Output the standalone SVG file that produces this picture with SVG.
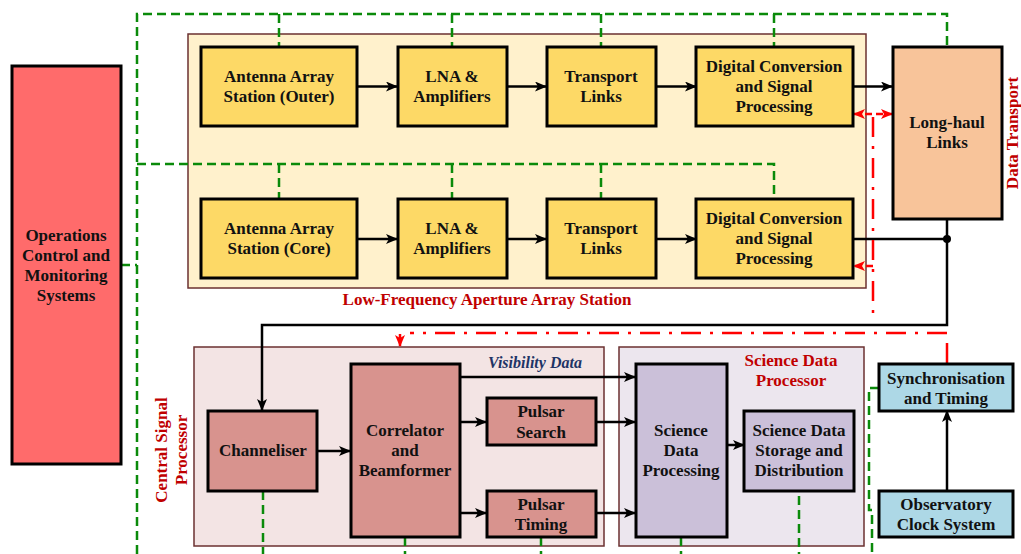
<svg xmlns="http://www.w3.org/2000/svg" width="1021" height="554" viewBox="0 0 1021 554">
<style>
.t{font-family:"Liberation Serif","Times New Roman",serif;font-weight:bold;font-size:17px;text-anchor:middle;fill:#111}
.red{fill:#c00000}
.blue{fill:#1f3466;font-style:italic;font-size:16px}
.box{stroke:#000;stroke-width:3}
.y{fill:#fdd966}
.pk{fill:#d8938e}
.pu{fill:#cbc0d9}
.lb{fill:#add8e6}
.or{fill:#f8c49a}
.op{fill:#ff6b6b}
.grp{stroke:#6b3030;stroke-width:1.5}
.g{fill:none;stroke:#0a8a0a;stroke-width:2.5;stroke-dasharray:9 5}
.k{fill:none;stroke:#000;stroke-width:2.5}
.rd{fill:none;stroke:#ff0000;stroke-width:2.5;stroke-dasharray:20 9 3 9}
.rs{fill:none;stroke:#ff0000;stroke-width:2.5}
.rdd{fill:none;stroke:#ff0000;stroke-width:2.5;stroke-dasharray:7 4}
</style>
<defs>
<marker id="ak" markerUnits="userSpaceOnUse" markerWidth="12" markerHeight="10" refX="11" refY="5" orient="auto"><path d="M0,0 L12,5 L0,10 L3,5 Z" fill="#000"/></marker>
<marker id="ar" markerUnits="userSpaceOnUse" markerWidth="12" markerHeight="10" refX="11" refY="5" orient="auto"><path d="M0,0 L12,5 L0,10 L3,5 Z" fill="#ff0000"/></marker>
<marker id="ars" markerUnits="userSpaceOnUse" markerWidth="12" markerHeight="10" refX="1" refY="5" orient="auto"><path d="M12,0 L0,5 L12,10 L9,5 Z" fill="#ff0000"/></marker>
</defs>
<rect width="1021" height="554" fill="#fff"/>

<!-- group containers -->
<g id="lfaa-station">
<rect x="188" y="34" width="678" height="254" fill="#fff1cc" class="grp"/>
<text class="t red" x="487" y="305">Low-Frequency Aperture Array Station</text>
</g>
<g id="csp">
<rect x="194" y="347" width="410" height="199" fill="#f3e4e4" class="grp"/>
<text class="t blue" x="535" y="368">Visibility Data</text>
<text class="t red" transform="translate(167,450) rotate(-90)">Central Signal</text>
<text class="t red" transform="translate(187,450) rotate(-90)">Processor</text>
</g>
<g id="sdp">
<rect x="619" y="347" width="245" height="199" fill="#ece6ee" class="grp"/>
<text class="t red" x="791" y="366">Science Data</text>
<text class="t red" x="791" y="386">Processor</text>
</g>
<text class="t red" transform="translate(1018,133) rotate(-90)">Data Transport</text>

<!-- connectors -->
<g id="connectors">
<!-- green monitoring dashed -->
<path class="g" d="M137,554 V14 H947 V47"/>
<path class="g" d="M279,14 V47 M452,14 V47 M601,14 V47 M774,14 V47"/>
<path class="g" d="M137,164 H774 V199"/>
<path class="g" d="M279,164 V199 M452,164 V199 M601,164 V199"/>
<path class="g" d="M121,265 H137"/>
<path class="g" d="M263,491 V554 M405,537 V554 M541,537 V554 M681,537 V554 M799,496 V554"/>
<path class="g" d="M879,388 H869 V510 H872 V554"/>
<!-- black signal flow -->
<path class="k" marker-end="url(#ak)" d="M357,86.5 H397"/>
<path class="k" marker-end="url(#ak)" d="M507,86.5 H546"/>
<path class="k" marker-end="url(#ak)" d="M656,86.5 H696"/>
<path class="k" marker-end="url(#ak)" d="M853,86.5 H892"/>
<path class="k" marker-end="url(#ak)" d="M357,239 H397"/>
<path class="k" marker-end="url(#ak)" d="M507,239 H546"/>
<path class="k" marker-end="url(#ak)" d="M656,239 H696"/>
<path class="k" d="M853,239 H947"/>
<path class="k" marker-end="url(#ak)" d="M947,219 V325 H262 V410"/>
<circle cx="947" cy="239" r="4" fill="#000"/>
<path class="k" marker-end="url(#ak)" d="M317,451 H350"/>
<path class="k" marker-end="url(#ak)" d="M460,422 H486"/>
<path class="k" marker-end="url(#ak)" d="M460,513 H486"/>
<path class="k" marker-end="url(#ak)" d="M460,377 H635"/>
<path class="k" marker-end="url(#ak)" d="M596,422 H635"/>
<path class="k" marker-end="url(#ak)" d="M596,513 H635"/>
<path class="k" marker-end="url(#ak)" d="M727,445 H744"/>
<path class="k" marker-end="url(#ak)" d="M947,491 V411"/>
<!-- red timing -->
<path class="rd" d="M873,117 V322"/>
<path class="rdd" marker-start="url(#ars)" marker-end="url(#ar)" d="M854,114 H892"/>
<path class="rdd" marker-end="url(#ar)" d="M873,266 H854"/>
<path class="rd" d="M947,333 H410"/>
<path class="rs" marker-end="url(#ar)" d="M400,334 V346"/>
<path class="rs" d="M947,343 V364"/>
</g>

<!-- nodes -->
<g id="ops">
<rect x="12" y="66" width="109" height="398" class="box op"/>
<text class="t" x="66" y="241">Operations</text>
<text class="t" x="66" y="261">Control and</text>
<text class="t" x="66" y="281">Monitoring</text>
<text class="t" x="66" y="301">Systems</text>
</g>
<g id="antenna-outer">
<rect x="201" y="47" width="156" height="79" class="box y"/>
<text class="t" x="279" y="82">Antenna Array</text>
<text class="t" x="279" y="102">Station (Outer)</text>
</g>
<g id="lna-outer">
<rect x="398" y="47" width="109" height="79" class="box y"/>
<text class="t" x="452" y="82">LNA &amp;</text>
<text class="t" x="452" y="102">Amplifiers</text>
</g>
<g id="transport-outer">
<rect x="547" y="47" width="109" height="79" class="box y"/>
<text class="t" x="601" y="82">Transport</text>
<text class="t" x="601" y="102">Links</text>
</g>
<g id="digital-outer">
<rect x="696" y="47" width="157" height="79" class="box y"/>
<text class="t" x="774" y="72">Digital Conversion</text>
<text class="t" x="774" y="92">and Signal</text>
<text class="t" x="774" y="112">Processing</text>
</g>
<g id="longhaul">
<rect x="893" y="47" width="109" height="172" class="box or"/>
<text class="t" x="947" y="128">Long-haul</text>
<text class="t" x="947" y="148">Links</text>
</g>
<g id="antenna-core">
<rect x="201" y="199" width="156" height="79" class="box y"/>
<text class="t" x="279" y="234">Antenna Array</text>
<text class="t" x="279" y="254">Station (Core)</text>
</g>
<g id="lna-core">
<rect x="398" y="199" width="109" height="79" class="box y"/>
<text class="t" x="452" y="234">LNA &amp;</text>
<text class="t" x="452" y="254">Amplifiers</text>
</g>
<g id="transport-core">
<rect x="547" y="199" width="109" height="79" class="box y"/>
<text class="t" x="601" y="234">Transport</text>
<text class="t" x="601" y="254">Links</text>
</g>
<g id="digital-core">
<rect x="696" y="199" width="157" height="79" class="box y"/>
<text class="t" x="774" y="224">Digital Conversion</text>
<text class="t" x="774" y="244">and Signal</text>
<text class="t" x="774" y="264">Processing</text>
</g>
<g id="channeliser">
<rect x="208" y="411" width="109" height="80" class="box pk"/>
<text class="t" x="263" y="456">Channeliser</text>
</g>
<g id="correlator">
<rect x="351" y="364" width="109" height="173" class="box pk"/>
<text class="t" x="405" y="436">Correlator</text>
<text class="t" x="405" y="456">and</text>
<text class="t" x="405" y="476">Beamformer</text>
</g>
<g id="pulsar-search">
<rect x="487" y="398" width="109" height="47" class="box pk"/>
<text class="t" x="541" y="417">Pulsar</text>
<text class="t" x="541" y="438">Search</text>
</g>
<g id="pulsar-timing">
<rect x="487" y="491" width="109" height="46" class="box pk"/>
<text class="t" x="541" y="510">Pulsar</text>
<text class="t" x="541" y="530">Timing</text>
</g>
<g id="sci-processing">
<rect x="636" y="364" width="91" height="173" class="box pu"/>
<text class="t" x="681" y="436">Science</text>
<text class="t" x="681" y="456">Data</text>
<text class="t" x="681" y="476">Processing</text>
</g>
<g id="sci-storage">
<rect x="744" y="411" width="110" height="80" class="box pu"/>
<text class="t" x="799" y="436">Science Data</text>
<text class="t" x="799" y="456">Storage and</text>
<text class="t" x="799" y="476">Distribution</text>
</g>
<g id="sync">
<rect x="879" y="364" width="134" height="47" class="box lb"/>
<text class="t" x="946" y="384">Synchronisation</text>
<text class="t" x="946" y="404">and Timing</text>
</g>
<g id="clock">
<rect x="879" y="491" width="134" height="46" class="box lb"/>
<text class="t" x="946" y="510">Observatory</text>
<text class="t" x="946" y="530">Clock System</text>
</g>
</svg>
